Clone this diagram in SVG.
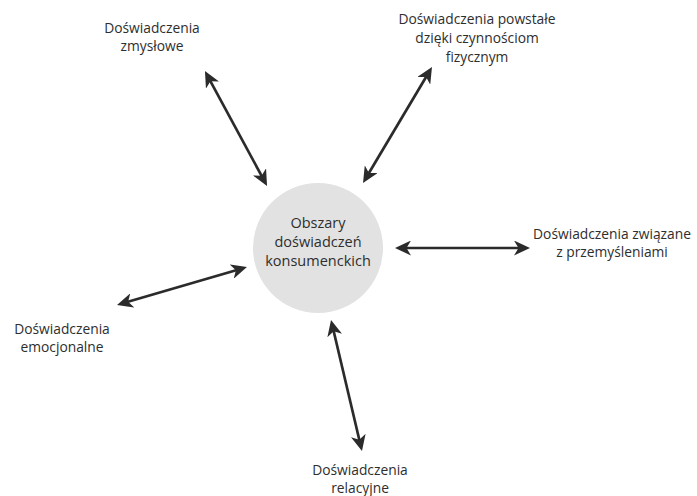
<svg xmlns="http://www.w3.org/2000/svg" width="697" height="496" viewBox="0 0 697 496">
<style>
.lbl{font-family:"Open Sans","Noto Sans","Liberation Sans",sans-serif;font-size:13.8px;fill:#2e2e2e;text-anchor:middle}
.ctr{font-family:"Open Sans","Noto Sans","Liberation Sans",sans-serif;font-size:14.5px;fill:#2e2e2e;text-anchor:middle}
.conn{stroke:#2b2b2b;stroke-width:2.7;fill:none;marker-start:url(#ah);marker-end:url(#ah)}
</style>
<defs>
<marker id="ah" markerUnits="userSpaceOnUse" viewBox="0 0 16 15" markerWidth="16" markerHeight="15" refX="10" refY="7.5" orient="auto-start-reverse">
<path d="M16,7.5 L0,0 L4.5,7.5 L0,15 Z" fill="#2b2b2b"/>
</marker>
</defs>
<rect width="697" height="496" fill="#fff"/>
<g id="center">
<circle cx="318" cy="248" r="65" fill="#e2e2e2"/>
<text class="ctr" x="318" y="228">Obszary</text>
<text class="ctr" x="318" y="247">doświadczeń</text>
<text class="ctr" x="318" y="266">konsumenckich</text>
</g>
<g id="zmyslowe">
<text class="lbl" x="152" y="33">Doświadczenia</text>
<text class="lbl" x="152" y="51">zmysłowe</text>
</g>
<g id="fizyczne">
<text class="lbl" x="477" y="24">Doświadczenia powstałe</text>
<text class="lbl" x="477" y="43">dzięki czynnościom</text>
<text class="lbl" x="477" y="62">fizycznym</text>
</g>
<g id="przemyslenia">
<text class="lbl" x="612" y="239">Doświadczenia związane</text>
<text class="lbl" x="612" y="257">z przemyśleniami</text>
</g>
<g id="emocjonalne">
<text class="lbl" x="62" y="334">Doświadczenia</text>
<text class="lbl" x="62" y="352">emocjonalne</text>
</g>
<g id="relacyjne">
<text class="lbl" x="360" y="475">Doświadczenia</text>
<text class="lbl" x="360" y="493">relacyjne</text>
</g>
<g id="connectors">
<line class="conn" x1="207.8" y1="76.3" x2="264.2" y2="180.7"/>
<line class="conn" x1="428.9" y1="72.2" x2="366.1" y2="177.8"/>
<line class="conn" x1="401" y1="248" x2="524" y2="248"/>
<line class="conn" x1="122.8" y1="303.3" x2="241.2" y2="268.7"/>
<line class="conn" x1="332.4" y1="325.8" x2="360.6" y2="445.2"/>
</g>
</svg>
